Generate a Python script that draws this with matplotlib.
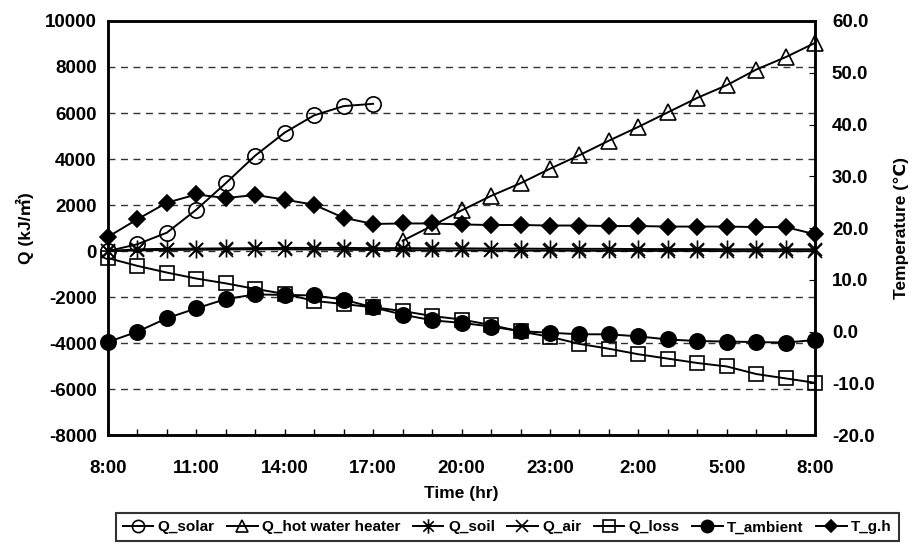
import numpy as np
import matplotlib
matplotlib.use("Agg")
import matplotlib.pyplot as plt
from matplotlib.path import Path
from matplotlib.lines import Line2D

nan = np.nan

# Hourly timestamps over one day (8:00 to 8:00 the next morning)
times = ["8:00", "9:00", "10:00", "11:00", "12:00", "13:00", "14:00", "15:00",
         "16:00", "17:00", "18:00", "19:00", "20:00", "21:00", "22:00", "23:00",
         "0:00", "1:00", "2:00", "3:00", "4:00", "5:00", "6:00", "7:00", "8:00"]

# Heat quantities (kJ/m2), left axis
q_solar = [0, 300, 800, 1800, 2950, 4150, 5150, 5900, 6300, 6400,
           nan, nan, nan, nan, nan, nan, nan, nan, nan, nan, nan, nan, nan, nan, nan]
q_hot_water = [nan, nan, nan, nan, nan, nan, nan, nan, nan, nan,
               450, 1100, 1770, 2400, 2950, 3580, 4170, 4800, 5400, 6030,
               6660, 7210, 7890, 8430, 9050]
q_soil = [0, 80, 100, 110, 120, 130, 140, 140, 140, 130, 130, 120, 120,
          110, 110, 100, 100, 100, 90, 90, 90, 80, 80, 80, 80]
q_air = [0, 30, 50, 60, 70, 80, 80, 70, 60, 50, 40, 40, 30, 30, 20, 20,
         20, 10, 10, 10, 10, 0, 0, 0, 0]
q_loss = [-300, -640, -930, -1190, -1400, -1640, -1860, -2160, -2300, -2440,
          -2600, -2820, -2970, -3210, -3490, -3720, -4030, -4240, -4480,
          -4670, -4860, -5010, -5340, -5530, -5720]

# Temperatures (deg C), right axis
t_ambient = [-2.0, 0.0, 2.6, 4.5, 6.3, 7.2, 7.1, 7.0, 6.2, 4.7, 3.3, 2.2,
             1.7, 1.0, 0.1, -0.2, -0.5, -0.5, -0.9, -1.5, -1.8, -1.9, -2.0,
             -2.1, -1.6]
t_gh = [18.3, 21.7, 24.9, 26.5, 25.8, 26.4, 25.5, 24.5, 22.0, 20.8, 20.9,
        20.9, 20.7, 20.6, 20.6, 20.5, 20.5, 20.4, 20.4, 20.3, 20.3, 20.3,
        20.2, 20.2, 18.8]

q_ticks = [-8000, -6000, -4000, -2000, 0, 2000, 4000, 6000, 8000, 10000]
t_ticks = [-20, -10, 0, 10, 20, 30, 40, 50, 60]

FONT = ["Liberation Sans", "DejaVu Sans", "Noto Sans CJK KR"]
plt.rcParams["font.family"] = FONT
plt.rcParams["font.weight"] = "bold"

# Star marker: an X crossed by a vertical stroke
a = 0.72
star = Path([(-a, -a), (a, a), (-a, a), (a, -a), (0, -1), (0, 1)],
            [Path.MOVETO, Path.LINETO, Path.MOVETO, Path.LINETO,
             Path.MOVETO, Path.LINETO])

fig = plt.figure(figsize=(9.14, 5.51), dpi=100)
ax = fig.add_axes([0.118, 0.21, 0.774, 0.752])
ax2 = ax.twinx()

x = np.arange(len(times))
lw = 1.4
k = dict(color="black", lw=lw, mec="black", mew=1.2)

styles = [
    (q_solar, "Q_solar", dict(marker="o", ms=11, mfc="none")),
    (q_hot_water, "Q_hot water heater", dict(marker="^", ms=11, mfc="none")),
    (q_soil, "Q_soil", dict(marker=star, ms=13, mfc="none")),
    (q_air, "Q_air", dict(marker="x", ms=10, mfc="none")),
    (q_loss, "Q_loss", dict(marker="s", ms=10, mfc="none")),
]
handles = []
for data, name, st in styles:
    ax.plot(x, data, clip_on=False, zorder=3, **k, **st)
    handles.append(Line2D([], [], label=name, **k, **{**st, "ms": st["ms"] * 0.8}))

for data, name, st in [
    (t_ambient, "T_ambient", dict(marker="o", ms=11, mfc="black")),
    (t_gh, "T_g.h", dict(marker="D", ms=8, mfc="black")),
]:
    ax2.plot(x, data, clip_on=False, zorder=3, **k, **st)
    handles.append(Line2D([], [], label=name, **k, **{**st, "ms": st["ms"] * 0.8}))

ax.set_xlim(0, len(times) - 1)
ax.set_ylim(q_ticks[0], q_ticks[-1])
ax2.set_ylim(t_ticks[0], t_ticks[-1])

ax.set_yticks(q_ticks)
ax.set_yticklabels([str(v) for v in q_ticks])
ax2.set_yticks(t_ticks)
ax2.set_yticklabels([f"{v:.1f}" for v in t_ticks])
ax.set_xticks(x[::3])
ax.set_xticklabels(times[::3])
ax.set_xticks(x, minor=True)

# Dashed horizontal gridlines on the heat axis
for v in q_ticks[1:-1]:
    ax.axhline(v, color="#333333", lw=1.0, ls=(0, (5, 4)), zorder=0)

for a_ in (ax, ax2):
    for s in a_.spines.values():
        s.set_linewidth(1.8)
ax.tick_params(axis="both", which="both", direction="in", labelsize=13.5,
               length=4, width=1)
ax.tick_params(axis="x", which="major", pad=18, length=4)
ax.tick_params(axis="y", pad=8, length=0)
ax2.tick_params(axis="y", direction="in", labelsize=13.5, length=4, pad=12)

ax.set_xlabel("Time (hr)", fontsize=12.5, fontweight="bold", labelpad=6)
ax.set_ylabel("Q (kJ/㎡)", fontsize=12.5, fontweight="bold", labelpad=8)
ax2.set_ylabel("Temperature (℃)", fontsize=12.5, fontweight="bold", labelpad=14)

leg = fig.legend(handles=handles, loc="center", bbox_to_anchor=(0.555, 0.043),
                 ncol=7, frameon=True, fancybox=False, edgecolor="black",
                 fontsize=11, handlelength=2.0, handletextpad=0.3,
                 columnspacing=0.8, borderpad=0.45)
leg.get_frame().set_linewidth(1.5)

fig.savefig("out.png", dpi=100, facecolor="white")
